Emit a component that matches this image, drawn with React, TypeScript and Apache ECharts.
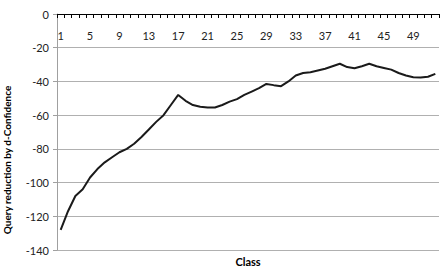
import React, { useEffect, useRef } from "react";
import * as echarts from "echarts";

const categories: string[] = Array.from({ length: 52 }, (_, i) => String(i + 1));
const reduction: number[] = [
  -128, -117, -108, -104, -97, -92, -88, -85, -82, -80,
  -77, -73, -68.5, -64, -60, -54, -48, -51.5, -54, -55,
  -55.5, -55.5, -54, -52, -50.5, -48, -46, -44, -41.5, -42.2,
  -42.8, -40, -36.5, -35, -34.5, -33.5, -32.5, -31, -29.5, -31.5,
  -32.2, -31, -29.5, -31, -32, -33, -35, -36.5, -37.5, -37.7,
  -37.2, -35.5,
];
const yTicks = { min: -140, max: 0, interval: 20 };
const xTitle = "Class";
const yTitle = "Query reduction by d-Confidence";

export default function App() {
  const ref = useRef<HTMLDivElement>(null);
  useEffect(() => {
    if (!ref.current) return;
    const chart = echarts.init(ref.current, null, { renderer: "svg" });
    const font = "Lato, 'Open Sans', sans-serif";
    chart.setOption({
      animation: false,
      backgroundColor: "#ffffff",
      grid: { left: 57, right: 5, top: 14, bottom: 20, containLabel: false },
      xAxis: {
        type: "category",
        data: categories,
        position: "top",
        boundaryGap: true,
        axisLine: { show: true, lineStyle: { color: "#000000", width: 1 } },
        axisTick: { show: true, inside: true, length: 4, interval: 0, lineStyle: { color: "#000000" } },
        axisLabel: { inside: true, interval: 3, margin: 16, color: "#222", fontSize: 11, fontFamily: font },
        splitLine: { show: false },
      },
      yAxis: {
        type: "value",
        min: yTicks.min,
        max: yTicks.max,
        interval: yTicks.interval,
        axisLine: { show: true, lineStyle: { color: "#a0a0a0" } },
        axisTick: { show: true, length: 4, lineStyle: { color: "#a0a0a0" } },
        axisLabel: { color: "#222", fontSize: 11, fontFamily: font, margin: 8 },
        splitLine: { show: true, lineStyle: { color: "#b0b0b0", width: 1 } },
      },
      series: [
        {
          type: "line",
          data: reduction,
          symbol: "none",
          smooth: false,
          lineStyle: { color: "#1a1a1a", width: 2 },
        },
      ],
      graphic: [
        {
          type: "text",
          x: 248,
          y: 261,
          style: {
            text: xTitle,
            font: "bold 11px " + font,
            fill: "#000",
            align: "center",
            verticalAlign: "middle",
          },
        },
        {
          type: "text",
          x: 7,
          y: 160,
          rotation: Math.PI / 2,
          style: {
            text: yTitle,
            font: "bold 10px " + font,
            fill: "#000",
            align: "center",
            verticalAlign: "middle",
          },
        },
      ],
    });
    return () => chart.dispose();
  }, []);
  return (
    <div
      ref={ref}
      style={{ position: "fixed", left: 0, top: 0, width: 444, height: 270 }}
    />
  );
}
